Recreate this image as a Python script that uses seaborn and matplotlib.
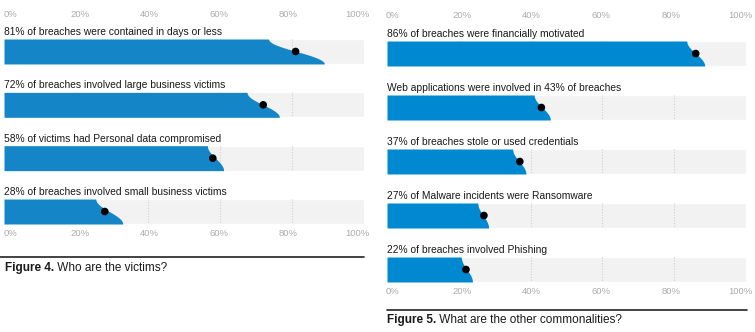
import numpy as np
import pandas as pd
import matplotlib
matplotlib.use("Agg")
import matplotlib.pyplot as plt
import seaborn as sns
from matplotlib.lines import Line2D

# ---- data ----
left_labels = [
    "81% of breaches were contained in days or less",
    "72% of breaches involved large business victims",
    "58% of victims had Personal data compromised",
    "28% of breaches involved small business victims",
]
left_values = [81, 72, 58, 28]
left_low = [73.5, 67.5, 56.5, 25.5]
left_high = [89, 76.5, 61, 33]

right_labels = [
    "86% of breaches were financially motivated",
    "Web applications were involved in 43% of breaches",
    "37% of breaches stole or used credentials",
    "27% of Malware incidents were Ransomware",
    "22% of breaches involved Phishing",
]
right_values = [86, 43, 37, 27, 22]
right_low = [83.5, 41, 35, 25.3, 20.7]
right_high = [88.5, 45.5, 38.7, 28.3, 23.8]

tick_values = [0, 20, 40, 60, 80, 100]
tick_labels = ["0%", "20%", "40%", "60%", "80%", "100%"]

left_title_bold = "Figure 4."
left_title = " Who are the victims?"
right_title_bold = "Figure 5."
right_title = " What are the other commonalities?"

# ---- style ----
sns.set_theme(style="white")
plt.rcParams["font.family"] = ["Liberation Sans", "DejaVu Sans"]

W, H = 755, 332
fig = plt.figure(figsize=(W / 100, H / 100), dpi=100)

GRAY_BG = "#f2f2f2"
GRID = "#cfcfcf"
TICK_C = "#ababab"
TEXT_C = "#1a1a1a"


def px_axes(x0, x1, ytop, ybot):
    return fig.add_axes([x0 / W, (H - ybot) / H, (x1 - x0) / W, (ybot - ytop) / H])


def panel(ax, labels, values, lows, highs, blue, bar_h):
    n = len(labels)
    df = pd.DataFrame({"label": labels, "full": [100] * n, "value": values})
    sns.barplot(data=df, x="full", y="label", orient="h", color=GRAY_BG,
                width=bar_h, saturation=1, ax=ax, zorder=1)
    for i in range(n):
        for tv in tick_values[1:]:
            ax.plot([tv, tv], [i - bar_h / 2, i + bar_h / 2], ls=(0, (1, 1.5)),
                    color=GRID, lw=0.8, zorder=2)
    for i in range(n):
        yy = np.linspace(i - bar_h / 2, i + bar_h / 2, 80)
        t = (yy - yy[0]) / (yy[-1] - yy[0])
        s = 0.5 - 0.5 * np.cos(np.pi * t)
        xx = lows[i] + (highs[i] - lows[i]) * s
        ax.fill_betweenx(yy, 0, xx, color=blue, lw=0, zorder=3)
    df["pos"] = np.arange(n)
    sns.scatterplot(x=df["value"], y=df["pos"], color="black", s=30,
                    edgecolor="none", ax=ax, zorder=4)
    ax.set_xlim(0, 100)
    ax.set_ylim(n - 1 + bar_h / 2, -bar_h / 2)
    ax.set_xticks([])
    ax.set_yticks([])
    ax.set_xlabel("")
    ax.set_ylabel("")
    for sp in ax.spines.values():
        sp.set_visible(False)
    ax.patch.set_alpha(0)
    for i, lab in enumerate(labels):
        ax.annotate(lab, xy=(0, i - bar_h / 2), xytext=(0, 7),
                    textcoords="offset pixels", va="center", ha="left",
                    fontsize=7.4, color=TEXT_C)


def tick_row(ax, y_px_offset_top, y_px_offset_bot, pad):
    # labels are spread evenly across the full width (first flush left, last flush right)
    for tv, tl in zip(tick_values, tick_labels):
        xpos = pad + tv * (100 - 2 * pad) / 100
        for yo, base in ((y_px_offset_top, 1.0), (-y_px_offset_bot, 0.0)):
            ax.annotate(tl, xy=(xpos, base), xycoords=("data", "axes fraction"),
                        xytext=(0, yo), textcoords="offset pixels",
                        ha="center", va="center", fontsize=6.8, color=TICK_C)


axL = px_axes(4, 364, 39, 224)
panel(axL, left_labels, left_values, left_low, left_high, "#1486c8", 25 / 53.4)
tick_row(axL, 24, 9, 1.9)

axR = px_axes(387, 746, 41, 282)
panel(axR, right_labels, right_values, right_low, right_high, "#0088d0", 25 / 54)
tick_row(axR, 26, 10, 1.5)

fig.add_artist(Line2D([0 / W, 364 / W], [(H - 257) / H] * 2, color="#222222", lw=1.2))
fig.add_artist(Line2D([387 / W, 747 / W], [(H - 310) / H] * 2, color="#222222", lw=1.2))

renderer = fig.canvas.get_renderer()


def caption(x_px, y_px, bold, rest):
    t1 = fig.text(x_px / W, (H - y_px) / H, bold, fontsize=8.5, fontweight="bold",
                  ha="left", va="center", color=TEXT_C)
    bb = t1.get_window_extent(renderer)
    fig.text(bb.x1 / W, (H - y_px) / H, rest, fontsize=8.5, ha="left",
             va="center", color=TEXT_C)


caption(5, 268, left_title_bold, left_title)
caption(387, 320, right_title_bold, right_title)

fig.savefig("out.png", dpi=100)
